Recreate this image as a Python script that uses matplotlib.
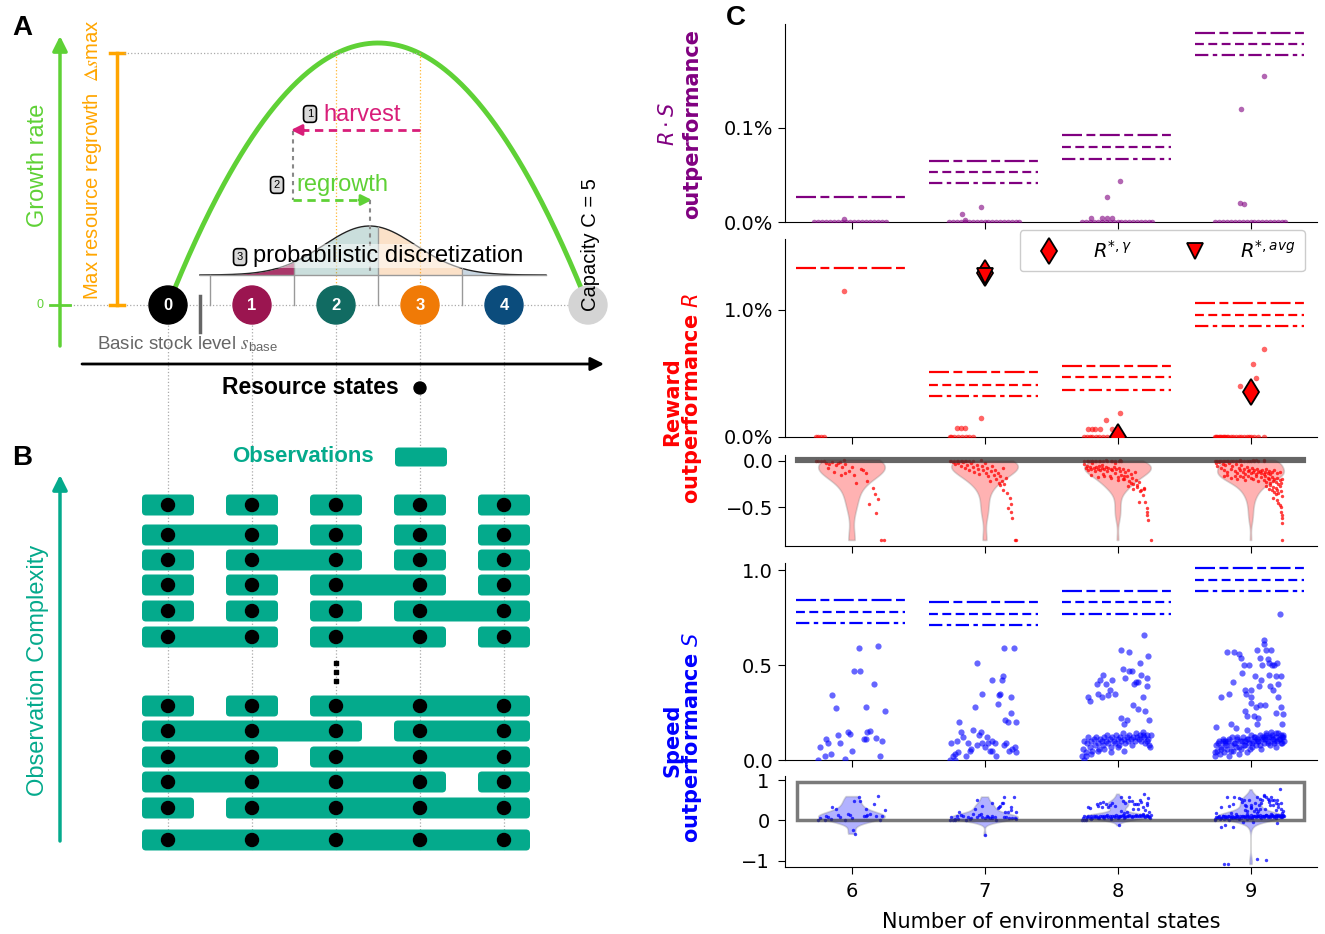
import numpy as np
import matplotlib.pyplot as plt
from matplotlib.patches import Circle, FancyBboxPatch, Rectangle
from matplotlib.lines import Line2D

# ---------------- panel A / B content ----------------
state_labels = ['0', '1', '2', '3', '4']
state_colors = ['#000000', '#9b1550', '#116b62', '#f07a06', '#0b4c7c']
capacity = 5
growth_peak_states = [2, 3]          # states where regrowth is maximal
discr_mean, discr_sd = 2.4, 0.55     # probabilistic discretization bump

# observation groupings (each inner list = one observation)
obs_rows = [
    [[0], [1], [2], [3], [4]],
    [[0, 1], [2], [3], [4]],
    [[0], [1, 2], [3], [4]],
    [[0], [1], [2, 3], [4]],
    [[0], [1], [2], [3, 4]],
    [[0, 1], [2, 3], [4]],
    [[0], [1], [2, 3, 4]],
    [[0, 1, 2], [3, 4]],
    [[0, 1], [2, 3, 4]],
    [[0, 1, 2, 3], [4]],
    [[0], [1, 2, 3, 4]],
    [[0, 1, 2, 3, 4]],
]

# ---------------- panel C data ----------------
n_states = [6, 7, 8, 9]

# benchmark levels (dashed lines)
rs_lines = [[0.027], [0.065, 0.053, 0.041], [0.092, 0.080, 0.067], [0.200, 0.189, 0.177]]
r_lines = [[1.33], [0.51, 0.41, 0.32], [0.56, 0.47, 0.37], [1.05, 0.96, 0.87]]
s_lines = [[0.84, 0.78, 0.72], [0.83, 0.77, 0.71], [0.89, 0.83, 0.77], [1.01, 0.95, 0.89]]
r_star_gamma = [np.nan, 1.285, 0.0, 0.35]
r_star_avg = [np.nan, 1.265, np.nan, np.nan]

# R*S outperformance (%)
rs_jit = {
    6: [-0.28, -0.25, -0.22, -0.19, -0.16, -0.13, -0.1, -0.07, -0.04, -0.01,
        0.02, 0.05, 0.08, 0.11, 0.14, 0.17, 0.2, 0.23, 0.26, -0.06],
    7: [-0.27, -0.24, -0.21, -0.18, -0.15, -0.12, -0.09, -0.06, -0.03, 0.0,
        0.03, 0.06, 0.09, 0.12, 0.15, 0.18, 0.21, 0.24, 0.26, -0.17, -0.03, -0.15],
    8: [-0.27, -0.24, -0.21, -0.18, -0.15, -0.12, -0.09, -0.06, -0.03, 0.0,
        0.03, 0.06, 0.09, 0.12, 0.15, 0.18, 0.21, 0.24, 0.26,
        -0.2, -0.12, -0.08, -0.04, -0.08, 0.02],
    9: [-0.27, -0.24, -0.21, -0.18, -0.15, -0.12, -0.09, -0.06, -0.03, 0.0,
        0.03, 0.06, 0.09, 0.12, 0.15, 0.18, 0.21, 0.24, 0.26,
        -0.08, -0.05, -0.07, 0.1],
}
rs_val = {
    6: [0, 0, 0, 0, 0, 0, 0, 0, 0, 0, 0, 0, 0, 0, 0, 0, 0, 0, 0, 0.003],
    7: [0, 0, 0, 0, 0, 0, 0, 0, 0, 0, 0, 0, 0, 0, 0, 0, 0, 0, 0, 0.008, 0.016, 0.002],
    8: [0, 0, 0, 0, 0, 0, 0, 0, 0, 0, 0, 0, 0, 0, 0, 0, 0, 0, 0,
        0.0046, 0.004, 0.004, 0.004, 0.027, 0.043],
    9: [0, 0, 0, 0, 0, 0, 0, 0, 0, 0, 0, 0, 0, 0, 0, 0, 0, 0, 0,
        0.0206, 0.019, 0.1195, 0.155],
}

# reward outperformance (fraction)
r_jit = {
    6: [-0.27, -0.25, -0.23, -0.21, -0.19, -0.17, -0.145, -0.12, -0.105, -0.085,
        -0.07, -0.05, -0.18, -0.135, -0.08, -0.046, -0.02, 0.0, 0.02, 0.036,
        0.07, 0.085, 0.11, 0.12, 0.16, 0.18, 0.2, 0.135, 0.185, 0.22,
        0.245, -0.06],
    7: [-0.26, -0.25, -0.23, -0.2, -0.17, -0.14, -0.12, -0.09, -0.21, -0.18,
        -0.15, -0.03, -0.24, -0.22, -0.2, -0.18, -0.16, -0.15, -0.13, -0.12,
        -0.1, -0.09, -0.08, -0.06, -0.05, -0.04, -0.02, -0.01, 0.0, 0.01,
        0.02, 0.03, 0.04, 0.05, 0.06, 0.07, 0.08, 0.09, 0.1, 0.11,
        0.12, 0.13, 0.14, 0.15, 0.16, 0.115, 0.14, 0.17, 0.19, 0.2,
        0.18, 0.2, 0.21, 0.23, 0.24],
    8: [-0.25, -0.23, -0.21, -0.19, -0.16, -0.14, -0.11, -0.08, -0.05, -0.02,
        0.01, 0.03, -0.22, -0.19, -0.17, -0.13, -0.09, -0.04, 0.02, -0.25,
        -0.24, -0.23, -0.22, -0.21, -0.2, -0.19, -0.18, -0.17, -0.16, -0.15,
        -0.14, -0.13, -0.12, -0.11, -0.1, -0.09, -0.08, -0.07, -0.06, -0.05,
        -0.04, -0.03, -0.02, -0.01, 0.0, 0.01, 0.02, 0.03, 0.04, 0.05,
        0.06, 0.07, 0.08, 0.09, 0.1, 0.11, 0.12, 0.13, 0.14, 0.15,
        -0.2, -0.15, -0.1, -0.05, 0.0, 0.05, 0.1, 0.15, -0.12, -0.02,
        0.04, 0.08, 0.12, 0.16, 0.18, 0.2, 0.17, 0.19, 0.21, 0.22,
        0.22, 0.225, 0.23, 0.25, 0.16, 0.2],
    9: [-0.27, -0.26, -0.25, -0.24, -0.23, -0.22, -0.21, -0.2, -0.19, -0.18,
        -0.17, -0.15, -0.13, -0.11, -0.09, -0.07, -0.05, -0.03, -0.01, 0.0,
        0.03, 0.06, 0.1, -0.08, 0.02, 0.04, 0.1, -0.26, -0.25, -0.24,
        -0.22, -0.21, -0.2, -0.19, -0.18, -0.16, -0.15, -0.14, -0.12, -0.11,
        -0.1, -0.09, -0.08, -0.07, -0.06, -0.05, -0.04, -0.03, -0.02, -0.01,
        0.0, 0.01, 0.02, 0.03, 0.04, 0.05, 0.06, 0.07, 0.08, 0.09,
        0.1, 0.11, 0.12, 0.13, 0.14, 0.15, 0.16, 0.18, 0.2, 0.22,
        -0.2, -0.18, -0.15, -0.12, -0.1, -0.08, -0.06, -0.04, -0.02, 0.0,
        0.02, 0.04, 0.06, 0.08, 0.1, 0.11, 0.12, 0.13, 0.14, 0.15,
        0.16, 0.17, 0.18, 0.19, 0.2, 0.21, 0.22, 0.23, 0.24, 0.12,
        0.14, 0.15, 0.16, 0.17, 0.18, 0.19, 0.2, 0.21, 0.22, 0.23,
        0.24, 0.19, 0.17, 0.2, 0.21, 0.22, 0.23, 0.23, 0.24, 0.24,
        0.235, 0.24],
}
r_val = {
    6: [0, 0, 0, 0, -0.03, -0.035, -0.015, -0.05, -0.03, -0.02,
        -0.065, -0.035, -0.08, -0.12, -0.15, -0.135, -0.11, -0.065, -0.15, -0.235,
        -0.09, -0.105, -0.135, -0.215, -0.29, -0.36, -0.415, -0.46, -0.565, -0.85,
        -0.85, 0.0115],
    7: [0, 0, 0, 0, 0, 0, 0, 0, 0.0007, 0.0007,
        0.0007, 0.00147, -0.02, -0.04, -0.03, -0.06, -0.02, -0.08, -0.05, -0.1,
        -0.03, -0.07, -0.12, -0.05, -0.09, -0.14, -0.06, -0.1, -0.03, -0.13,
        -0.08, -0.16, -0.22, -0.11, -0.06, -0.15, -0.1, -0.2, -0.13, -0.24,
        -0.17, -0.22, -0.08, -0.25, -0.19, -0.26, -0.31, -0.35, -0.4, -0.46,
        -0.51, -0.55, -0.62, -0.85, -0.85],
    8: [0, 0, 0, 0, 0, 0, 0, 0, 0, 0,
        0, 0, 0.00063, 0.00063, 0.00063, 0.00063, 0.0013, 0.00063, 0.0019, -0.04,
        -0.08, -0.06, -0.1, -0.07, -0.09, -0.03, -0.08, -0.11, -0.07, -0.09,
        -0.06, -0.1, -0.08, -0.14, -0.09, -0.07, -0.11, -0.08, -0.16, -0.09,
        -0.1, -0.07, -0.13, -0.09, -0.18, -0.08, -0.11, -0.15, -0.09, -0.2,
        -0.12, -0.17, -0.1, -0.22, -0.14, -0.19, -0.25, -0.12, -0.21, -0.28,
        -0.15, -0.18, -0.16, -0.19, -0.21, -0.17, -0.24, -0.26, -0.05, -0.03,
        -0.2, -0.27, -0.3, -0.23, -0.31, -0.29, -0.33, -0.37, -0.44, -0.51,
        -0.55, -0.58, -0.64, -0.85, -0.44, -0.3],
    9: [0, 0, 0, 0, 0, 0, 0, 0, 0, 0,
        0, 0, 0, 0, 0, 0, 0, 0, 0, 0,
        0, 0, 0, 0.004, 0.0057, 0.0046, 0.0069, -0.03, -0.06, -0.02,
        -0.08, -0.04, -0.1, -0.05, -0.12, -0.03, -0.09, -0.06, -0.11, -0.04,
        -0.13, -0.08, -0.1, -0.05, -0.12, -0.09, -0.14, -0.07, -0.11, -0.1,
        -0.13, -0.08, -0.12, -0.1, -0.14, -0.09, -0.12, -0.11, -0.13, -0.1,
        -0.14, -0.12, -0.09, -0.13, -0.11, -0.14, -0.12, -0.1, -0.13, -0.12,
        -0.17, -0.15, -0.19, -0.16, -0.2, -0.17, -0.18, -0.21, -0.16, -0.19,
        -0.2, -0.17, -0.22, -0.18, -0.21, -0.16, -0.23, -0.19, -0.2, -0.24,
        -0.18, -0.22, -0.2, -0.23, -0.19, -0.25, -0.21, -0.24, -0.2, -0.27,
        -0.3, -0.26, -0.32, -0.28, -0.34, -0.29, -0.31, -0.35, -0.27, -0.33,
        -0.38, -0.36, -0.4, -0.42, -0.45, -0.48, -0.5, -0.55, -0.62, -0.67,
        -0.85, -0.58],
}

# speed outperformance
s_jit = {
    6: [-0.25, -0.24, -0.19, -0.18, -0.155, -0.145, -0.12, -0.105, -0.085, -0.046,
        -0.03, -0.013, 0.02, 0.062, 0.053, 0.092, 0.11, 0.118, 0.14, 0.168,
        0.184, 0.2, 0.217, 0.227, 0.25, 0.108, 0.01, 0.03, -0.2, 0.0],
    7: [-0.26, -0.25, -0.22, -0.21, -0.19, -0.18, -0.16, -0.14, -0.125, -0.11,
        -0.085, -0.075, -0.06, -0.045, -0.03, -0.016, 0.007, 0.023, 0.04, 0.056,
        0.08, 0.09, 0.1, 0.11, 0.12, 0.13, 0.14, 0.145, 0.155, 0.164,
        0.177, 0.187, 0.197, 0.2, 0.22, 0.23, 0.24, 0.237, 0.056, 0.02,
        -0.016, -0.06, -0.22, 0.0, -0.24, -0.2, -0.1, 0.06, 0.15, 0.21],
    8: [-0.27, -0.26, -0.25, -0.24, -0.23, -0.22, -0.21, -0.2, -0.19, -0.18,
        -0.17, -0.16, -0.15, -0.14, -0.13, -0.12, -0.11, -0.1, -0.09, -0.08,
        -0.07, -0.06, -0.05, -0.04, -0.03, -0.02, -0.01, 0.0, 0.01, 0.02,
        0.03, 0.04, 0.05, 0.06, 0.07, 0.08, 0.09, 0.1, 0.11, 0.12,
        0.13, 0.14, 0.15, 0.16, 0.17, 0.18, 0.19, 0.2, 0.21, 0.22,
        0.23, 0.24, 0.25, -0.25, -0.2, -0.15, -0.1, -0.05, 0.0, 0.05,
        -0.22, -0.21, -0.155, -0.13, -0.11, -0.15, -0.12, -0.09, -0.07, -0.056,
        -0.04, -0.02, 0.026, 0.085, 0.026, 0.05, 0.06, 0.085, 0.11, 0.125,
        0.14, 0.155, 0.17, 0.18, 0.19, 0.2, 0.21, 0.22, 0.223, 0.23,
        0.24, 0.247, 0.155, 0.04, 0.075, 0.12, 0.19, 0.22, 0.01, -0.24],
    9: [-0.27, -0.26, -0.25, -0.24, -0.23, -0.22, -0.21, -0.2, -0.19, -0.18,
        -0.17, -0.16, -0.15, -0.14, -0.13, -0.12, -0.11, -0.1, -0.09, -0.08,
        -0.07, -0.06, -0.05, -0.04, -0.03, -0.02, -0.01, 0.0, 0.01, 0.02,
        0.03, 0.04, 0.05, 0.06, 0.07, 0.08, 0.09, 0.1, 0.11, 0.12,
        0.13, 0.14, 0.15, 0.16, 0.17, 0.18, 0.19, 0.2, 0.21, 0.22,
        0.23, 0.24, 0.25, -0.265, -0.245, -0.225, -0.205, -0.185, -0.165, -0.145,
        -0.125, -0.105, -0.085, -0.065, -0.045, -0.025, -0.005, 0.015, 0.035, 0.055,
        0.075, 0.095, 0.115, 0.135, 0.155, 0.175, 0.195, 0.215, 0.235, 0.245,
        -0.26, -0.22, -0.175, -0.16, -0.15, -0.125, -0.13, -0.09, -0.075, -0.065,
        -0.05, -0.043, -0.033, -0.026, -0.01, 0.0, 0.007, 0.023, 0.033, 0.04,
        0.05, 0.066, 0.072, 0.08, 0.09, 0.1, 0.105, 0.11, 0.12, 0.13,
        0.138, 0.145, 0.155, 0.16, 0.17, 0.18, 0.19, 0.194, 0.197, 0.204,
        0.21, 0.22, 0.227, 0.23, 0.237, 0.243, 0.07, -0.026, -0.11, -0.19,
        -0.043, 0.046, 0.105, 0.155, 0.19, 0.227, 0.243, 0.0, 0.06, 0.14,
        -0.2, -0.17, 0.05, 0.115, -0.22, -0.19, -0.13, -0.06, 0.02, 0.2],
}
s_val = {
    6: [0.0, 0.07, 0.11, 0.09, 0.03, 0.34, 0.275, 0.13, 0.09, 0.005,
        0.15, 0.135, 0.47, 0.47, 0.59, 0.11, 0.28, 0.145, 0.155, 0.40,
        0.115, 0.6, 0.02, 0.10, 0.26, 0.11, -0.25, -0.33, 0.02, 0.05],
    7: [0.0, 0.09, 0.03, 0.1, 0.2, 0.145, 0.12, 0.02, 0.09, 0.045,
        0.16, 0.28, 0.51, 0.13, 0.15, 0.345, 0.07, 0.09, 0.05, 0.42,
        0.09, 0.02, 0.295, 0.34, 0.35, 0.42, 0.44, 0.59, 0.21, 0.09,
        0.2, 0.05, 0.33, 0.245, 0.59, 0.07, 0.2, 0.04, 0.05, 0.12,
        0.09, 0.08, 0.0, -0.37, 0.02, 0.04, 0.06, 0.1, 0.08, 0.06],
    8: [0.02, 0.06, 0.1, 0.04, 0.09, 0.12, 0.07, 0.1, 0.05, 0.11,
        0.08, 0.12, 0.09, 0.06, 0.11, 0.1, 0.08, 0.12, 0.1, 0.13,
        0.09, 0.11, 0.07, 0.12, 0.1, 0.09, 0.13, 0.11, 0.08, 0.12,
        0.1, 0.14, 0.11, 0.09, 0.12, 0.1, 0.13, 0.11, 0.08, 0.12,
        0.1, 0.14, 0.12, 0.11, 0.13, 0.1, 0.15, 0.12, 0.09, 0.13,
        0.11, 0.08, 0.13, 0.0, 0.03, 0.05, 0.06, 0.04, 0.07, 0.05,
        0.33, 0.31, 0.4, 0.42, 0.45, 0.35, 0.33, 0.4, 0.34, 0.37,
        0.42, 0.35, 0.58, 0.57, 0.22, 0.19, 0.43, 0.47, 0.47, 0.4,
        0.41, 0.41, 0.51, 0.45, 0.33, 0.66, 0.26, 0.39, 0.43, 0.55,
        0.21, 0.07, 0.27, 0.48, 0.21, 0.29, 0.13, 0.1, -0.12, 0.02],
    9: [0.02, 0.08, 0.05, 0.1, 0.03, 0.07, 0.11, 0.04, 0.09, 0.06,
        0.1, 0.02, 0.08, 0.12, 0.05, 0.09, 0.07, 0.11, 0.03, 0.1,
        0.06, 0.12, 0.08, 0.1, 0.04, 0.11, 0.09, 0.13, 0.07, 0.1,
        0.12, 0.08, 0.11, 0.1, 0.13, 0.06, 0.12, 0.09, 0.11, 0.14,
        0.1, 0.12, 0.08, 0.13, 0.11, 0.09, 0.12, 0.1, 0.14, 0.11,
        0.09, 0.12, 0.1, 0.04, 0.09, 0.06, 0.1, 0.08, 0.11, 0.05,
        0.09, 0.12, 0.07, 0.1, 0.08, 0.11, 0.06, 0.09, 0.12, 0.1,
        0.08, 0.11, 0.13, 0.09, 0.12, 0.1, 0.07, 0.11, 0.09, 0.13,
        0.175, 0.33, 0.57, 0.35, 0.19, 0.57, 0.41, 0.56, 0.535, 0.46,
        0.5, 0.26, 0.35, 0.23, 0.5, 0.37, 0.33, 0.23, 0.44, 0.28,
        0.58, 0.39, 0.535, 0.42, 0.5, 0.61, 0.63, 0.29, 0.58, 0.53,
        0.51, 0.39, 0.58, 0.5, 0.37, 0.5, 0.44, 0.25, 0.51, 0.4,
        0.33, 0.77, 0.44, 0.28, 0.19, 0.24, 0.29, 0.16, 0.17, 0.1,
        0.37, 0.19, 0.12, 0.15, 0.14, 0.13, 0.12, 0.3, 0.22, 0.45,
        -1.08, -1.08, -0.95, -0.98, -0.17, -0.12, -0.17, -0.05, -0.04, -0.06],
}

# ---------------- style ----------------
W, H = 1325, 934
GREEN = '#5fd136'
ORANGE = '#ffa500'
MAGENTA = '#d81e79'
TEAL = '#04aa8c'
SANS = 'Liberation Sans'
dash_styles = [(0, (9, 2, 4, 2)), (0, (4, 2)), (0, (6, 2, 2, 2))]

fig = plt.figure(figsize=(W / 100, H / 100), dpi=100)
bg = fig.add_axes([0, 0, 1, 1])
bg.set_xlim(0, W)
bg.set_ylim(H, 0)
bg.axis('off')

x0, dx, y_state = 168, 84, 305


def sx(s):
    return x0 + dx * np.asarray(s, dtype=float)


# ---------------- panel A ----------------
bg.text(22, 28, 'A', fontsize=20, fontweight='bold', ha='center', va='center', family=SANS)
bg.annotate('', xy=(60, 36), xytext=(60, 346),
            arrowprops=dict(arrowstyle='-|>', color=GREEN, lw=2.5, mutation_scale=22, shrinkA=0, shrinkB=0))
bg.plot([50, 70], [y_state, y_state], color=GREEN, lw=2)
bg.text(40, y_state, '0', color=GREEN, fontsize=9, ha='center', va='center', family=SANS)
bg.text(38, 165, 'Growth rate', rotation=90, color=GREEN, fontsize=17, ha='center', va='center', family=SANS)

s = np.linspace(0, capacity, 300)
g = 4 * s * (capacity - s) / capacity ** 2
amp = 262
bg.plot(sx(s), y_state - amp * g, color=GREEN, lw=3.5, zorder=2)

g_max = 4 * growth_peak_states[0] * (capacity - growth_peak_states[0]) / capacity ** 2
y_top = y_state - amp * g_max
bg.plot([117, 117], [y_top, y_state], color=ORANGE, lw=2.5)
bg.plot([110, 124], [y_top, y_top], color=ORANGE, lw=2.5)
bg.plot([110, 124], [y_state, y_state], color=ORANGE, lw=2.5)
bg.text(93, 300, r'Max resource regrowth  $\Delta s$max', rotation=90, color=ORANGE, fontsize=14.6,
        ha='center', va='bottom', family=SANS, math_fontfamily='stix')
bg.plot([124, sx(growth_peak_states[1])], [y_top, y_top], color='#aaaaaa', lw=0.9, ls=':')
for st in growth_peak_states:
    bg.plot([sx(st)] * 2, [y_top, y_state - 19], color=ORANGE, lw=0.9, ls=':', alpha=0.8)
bg.plot([70, sx(capacity)], [y_state, y_state], color='#aaaaaa', lw=0.9, ls=':', zorder=1)

# harvest / regrowth arrows
bg.plot([420, 302], [130, 130], color=MAGENTA, lw=2, ls=(0, (3, 2)))
bg.annotate('', xy=(291, 130), xytext=(304, 130),
            arrowprops=dict(arrowstyle='-|>', color=MAGENTA, lw=2, mutation_scale=16, shrinkA=0, shrinkB=0))
bg.plot([293, 293], [131, 200], color='#888888', lw=1.5, ls=(0, (2, 2)))
bg.plot([293, 361], [200, 200], color=GREEN, lw=2, ls=(0, (3, 2)))
bg.annotate('', xy=(372, 200), xytext=(359, 200),
            arrowprops=dict(arrowstyle='-|>', color=GREEN, lw=2, mutation_scale=16, shrinkA=0, shrinkB=0))
bg.plot([370, 370], [200, 275], color='#888888', lw=1.5, ls=(0, (2, 2)), zorder=3.5)

box = dict(boxstyle='round,pad=0.3,rounding_size=0.35', fc='#d9d9d9', ec='black', lw=1.2)
bg.text(310, 114, '1', fontsize=8, ha='center', va='center', family=SANS, bbox=box)
bg.text(323, 115, 'harvest', color=MAGENTA, fontsize=17, va='center', family=SANS)
bg.text(277, 185, '2', fontsize=8, ha='center', va='center', family=SANS, bbox=box)
bg.text(296, 185, 'regrowth', color=GREEN, fontsize=17, va='center', family=SANS)

# probabilistic discretization
sg = np.linspace(0.38, 4.5, 400)
pdf = np.exp(-0.5 * ((sg - discr_mean) / discr_sd) ** 2)
gy0, gamp = 275, 49
for i in range(1, 5):
    m = (sg >= i - 0.5) & (sg <= i + 0.5)
    bg.fill_between(sx(sg[m]), gy0, gy0 - gamp * pdf[m], color=state_colors[i],
                    alpha=0.85 if i == 1 else 0.22, lw=0, zorder=2.5)
bg.plot(sx(sg), gy0 - gamp * pdf, color='#222222', lw=1, zorder=3)
bg.plot([sx(0.38), sx(4.5)], [gy0, gy0], color='#999999', lw=1, zorder=3)
for b in [0.5, 1.5, 2.5, 3.5]:
    yb = gy0 - gamp * np.exp(-0.5 * ((b - discr_mean) / discr_sd) ** 2)
    bg.plot([sx(b)] * 2, [yb, y_state], color='#999999', lw=1, zorder=3)
bg.text(240, 257, '3', fontsize=8, ha='center', va='center', family=SANS, bbox=box, zorder=6)
bg.text(253, 256, 'probabilistic discretization', fontsize=17, va='center', family=SANS, zorder=5,
        bbox=dict(boxstyle='square,pad=0.05', fc='white', ec='none', alpha=0.5))

for i, (lab, col) in enumerate(zip(state_labels, state_colors)):
    bg.add_patch(Circle((sx(i), y_state), 19, color=col, zorder=4))
    bg.text(sx(i), y_state, lab, color='white', ha='center', va='center', fontsize=12,
            fontweight='bold', family=SANS, zorder=5)
bg.add_patch(Circle((sx(capacity), y_state), 19, color='#d4d4d4', zorder=4))
bg.text(590, 311, 'Capacity C = 5', rotation=90, fontsize=14.5, ha='center', va='bottom', family=SANS, zorder=5)

bg.plot([200, 200], [296, 332], color='#666666', lw=2.5)
bg.text(97, 344, r'Basic stock level $s_{\mathregular{base}}$', color='#666666', fontsize=13.5,
        va='center', family=SANS, math_fontfamily='stix')

bg.annotate('', xy=(604, 364), xytext=(82, 364),
            arrowprops=dict(arrowstyle='-|>', color='black', lw=2, mutation_scale=20, shrinkA=0, shrinkB=0))
bg.text(222, 388, 'Resource states', fontsize=16.5, fontweight='bold', va='center', family=SANS)
bg.add_patch(Circle((sx(3), 388), 6, color='black', zorder=4))

for i in range(len(state_labels)):
    bg.plot([sx(i)] * 2, [y_state + 20, 850], color='#aaaaaa', lw=0.9, ls=':', zorder=1)

# ---------------- panel B ----------------
bg.text(22, 458, 'B', fontsize=20, fontweight='bold', ha='center', va='center', family=SANS)
bg.text(232, 457, 'Observations', color=TEAL, fontsize=16, fontweight='bold', va='center', family=SANS)
bg.add_patch(FancyBboxPatch((395, 447.5), 52, 19, boxstyle='round,pad=0,rounding_size=4', fc=TEAL, ec='none'))
bg.annotate('', xy=(60, 475), xytext=(60, 841),
            arrowprops=dict(arrowstyle='-|>', color=TEAL, lw=2.5, mutation_scale=22, shrinkA=0, shrinkB=0))
bg.text(38, 670, 'Observation Complexity', rotation=90, color=TEAL, fontsize=17, ha='center', va='center', family=SANS)

row_y = [505, 535, 560, 585, 611, 637, 706, 731, 757, 782, 808, 840]
for row, y in zip(obs_rows, row_y):
    for grp in row:
        xa, xb = sx(grp[0]) - 26, sx(grp[-1]) + 26
        bg.add_patch(FancyBboxPatch((xa, y - 10.5), xb - xa, 21, boxstyle='round,pad=0,rounding_size=4',
                                    fc=TEAL, ec='none', zorder=3))
        for k in grp:
            bg.add_patch(Circle((sx(k), y), 6.5, color='black', zorder=4))
bg.scatter([sx(2)] * 3, [663, 672, 681], marker='s', s=10, color='black', zorder=4)

# ---------------- panel C ----------------
bg.text(736, 18, 'C', fontsize=20, fontweight='bold', ha='center', va='center', family=SANS)


def px_axes(l, t, r, b):
    return fig.add_axes([l / W, 1 - b / H, (r - l) / W, (b - t) / H])


CL, CR = 785, 1317
ax_rs = px_axes(CL, 24, CR, 222)
ax_r = px_axes(CL, 239, CR, 437)
ax_rv = px_axes(CL, 455, CR, 546)
ax_s = px_axes(CL, 563, CR, 760)
ax_sv = px_axes(CL, 776, CR, 867)
for ax in [ax_rs, ax_r, ax_rv, ax_s, ax_sv]:
    ax.set_facecolor('none')
    ax.spines[['top', 'right']].set_visible(False)
    ax.set_xlim(5.5, 9.5)
    ax.set_xticks(n_states)
    ax.tick_params(labelsize=14, labelbottom=False, length=5)
ax_sv.tick_params(labelbottom=True, pad=6)


def bench(ax, lines, color):
    for k, levels in zip(n_states, lines):
        for j, v in enumerate(levels):
            ax.plot([k - 0.42, k + 0.40], [v, v], color=color, lw=1.6, ls=dash_styles[j], zorder=2)


def strip(ax, jit, val, color, size, scale=1.0, alpha=0.6):
    for k in n_states:
        ax.scatter(k + np.array(jit[k]), np.array(val[k]) * scale, s=size, color=color,
                   alpha=alpha, lw=0, zorder=3)


def violins(ax, val, color):
    parts = ax.violinplot([val[k] for k in n_states], positions=n_states, widths=0.5, showextrema=False)
    for b in parts['bodies']:
        b.set_facecolor(color)
        b.set_edgecolor('gray')
        b.set_alpha(0.3)
        b.set_linewidth(1.2)


# R*S
bench(ax_rs, rs_lines, 'purple')
strip(ax_rs, rs_jit, rs_val, 'purple', 16)
ax_rs.set_ylim(0, 0.21)
ax_rs.set_yticks([0, 0.1])
ax_rs.set_yticklabels(['0.0%', '0.1%'])

# Reward
bench(ax_r, r_lines, 'red')
strip(ax_r, r_jit, r_val, 'red', 16, scale=100)
ax_r.plot(n_states, r_star_gamma, ls='', marker='d', ms=13, mfc='red', mec='black', mew=1.3, zorder=5)
ax_r.plot(n_states, r_star_avg, ls='', marker='v', ms=12, mfc='red', mec='black', mew=1.3, zorder=6)
ax_r.set_ylim(0, 1.556)
ax_r.set_yticks([0, 1.0])
ax_r.set_yticklabels(['0.0%', '1.0%'])
handles = [Line2D([], [], ls='', marker='d', ms=13, mfc='red', mec='black', mew=1.3),
           Line2D([], [], ls='', marker='v', ms=12, mfc='red', mec='black', mew=1.3)]
leg = ax_r.legend(handles, [r'$R^{*,\gamma}$', r'$R^{*,avg}$'], loc='upper right',
                  bbox_to_anchor=(0.977, 1.045), borderaxespad=0, ncol=2, fontsize=14,
                  columnspacing=2.2, handletextpad=1.3, borderpad=0.5, framealpha=1)
leg.set_zorder(7)

violins(ax_rv, r_val, 'red')
strip(ax_rv, r_jit, r_val, 'red', 6, alpha=0.75)
ax_rv.add_patch(Rectangle((5.59, 0), 3.81, 0.012, fill=False, ec='#333333', lw=3, alpha=0.75, zorder=4))
ax_rv.set_ylim(-0.915, 0.06)
ax_rv.set_yticks([-0.5, 0.0])
ax_rv.set_yticklabels(['\u22120.5', '0.0'])

# Speed
bench(ax_s, s_lines, 'blue')
strip(ax_s, s_jit, s_val, 'blue', 20)
ax_s.set_ylim(0, 1.037)
ax_s.set_yticks([0, 0.5, 1.0])

violins(ax_sv, s_val, 'blue')
strip(ax_sv, s_jit, s_val, 'blue', 6, alpha=0.75)
ax_sv.add_patch(Rectangle((5.59, 0), 3.81, 0.95, fill=False, ec='#333333', lw=2.5, alpha=0.65, zorder=4))
ax_sv.set_ylim(-1.156, 1.1)
ax_sv.set_yticks([-1, 0, 1])
ax_sv.set_xticklabels([str(k) for k in n_states])

bg.text(1051, 922, 'Number of environmental states', fontsize=15, ha='center', va='center')

bg.text(668, 124, r'$R \cdot S$', rotation=90, color='purple', fontsize=15, ha='center', va='center')
bg.text(692, 124, 'outperformance', rotation=90, color='purple', fontsize=15, fontweight='bold',
        ha='center', va='center')
bg.text(672, 402, 'Reward', rotation=90, color='red', fontsize=15, fontweight='bold', ha='center', va='center')
bg.text(692, 398, r'outperformance $R$', rotation=90, color='red', fontsize=15, fontweight='bold',
        ha='center', va='center')
bg.text(672, 740, 'Speed', rotation=90, color='blue', fontsize=15, fontweight='bold', ha='center', va='center')
bg.text(692, 737, r'outperformance $S$', rotation=90, color='blue', fontsize=15, fontweight='bold',
        ha='center', va='center')

fig.savefig('out.png', dpi=100)
